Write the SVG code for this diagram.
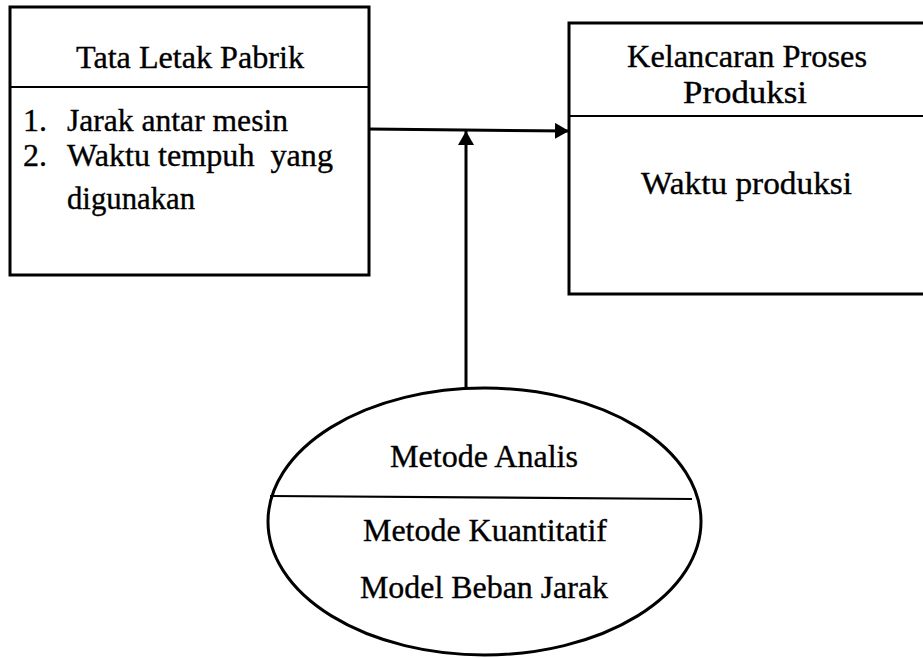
<svg xmlns="http://www.w3.org/2000/svg" width="923" height="658" viewBox="0 0 923 658">
  <style>
    .box { fill: #fff; stroke: #000; stroke-width: 3; }
    .rule { stroke: #000; stroke-width: 2.2; fill: none; }
    .conn { stroke: #000; stroke-width: 3; fill: none; }
    text { font-family: "Liberation Serif", "Times New Roman", serif; font-size: 32px; fill: #000; stroke: #000; stroke-width: 0.35; }
  </style>
  <defs>
    <marker id="head" viewBox="0 0 14 16" refX="14" refY="8" markerWidth="14" markerHeight="16" markerUnits="userSpaceOnUse" orient="auto">
      <path d="M0,0 L14,8 L0,16 Z" fill="#000"/>
    </marker>
  </defs>

  <g id="connectors">
    <path class="conn" d="M369,129 L569,131" marker-end="url(#head)"/>
    <path class="conn" d="M466,388 L466,131" marker-end="url(#head)"/>
  </g>

  <g id="tata-letak-pabrik">
    <rect class="box" x="10" y="7" width="359" height="268"/>
    <line class="rule" x1="10" y1="87" x2="369" y2="87"/>
    <text x="76" y="68" textLength="228" lengthAdjust="spacingAndGlyphs">Tata Letak Pabrik</text>
    <text x="23" y="131">1.</text>
    <text x="67" y="131" textLength="221" lengthAdjust="spacingAndGlyphs">Jarak antar mesin</text>
    <text x="23" y="166">2.</text>
    <text x="67" y="166" textLength="266" lengthAdjust="spacingAndGlyphs" xml:space="preserve">Waktu tempuh  yang</text>
    <text x="67" y="209" textLength="128" lengthAdjust="spacingAndGlyphs">digunakan</text>
  </g>

  <g id="kelancaran-proses-produksi">
    <rect class="box" x="569" y="23" width="362" height="271"/>
    <line class="rule" x1="569" y1="116" x2="931" y2="116"/>
    <text x="627" y="67" textLength="240" lengthAdjust="spacingAndGlyphs">Kelancaran Proses</text>
    <text x="683" y="103" textLength="124" lengthAdjust="spacingAndGlyphs">Produksi</text>
    <text x="641" y="194" textLength="211" lengthAdjust="spacingAndGlyphs">Waktu produksi</text>
  </g>

  <g id="metode-analis">
    <ellipse class="box" cx="484.5" cy="521.5" rx="216.5" ry="133.5"/>
    <line class="rule" x1="270" y1="496" x2="692" y2="499"/>
    <text x="390" y="467" textLength="188" lengthAdjust="spacingAndGlyphs">Metode Analis</text>
    <text x="363" y="541" textLength="244" lengthAdjust="spacingAndGlyphs">Metode Kuantitatif</text>
    <text x="360" y="598" textLength="248" lengthAdjust="spacingAndGlyphs">Model Beban Jarak</text>
  </g>
</svg>
